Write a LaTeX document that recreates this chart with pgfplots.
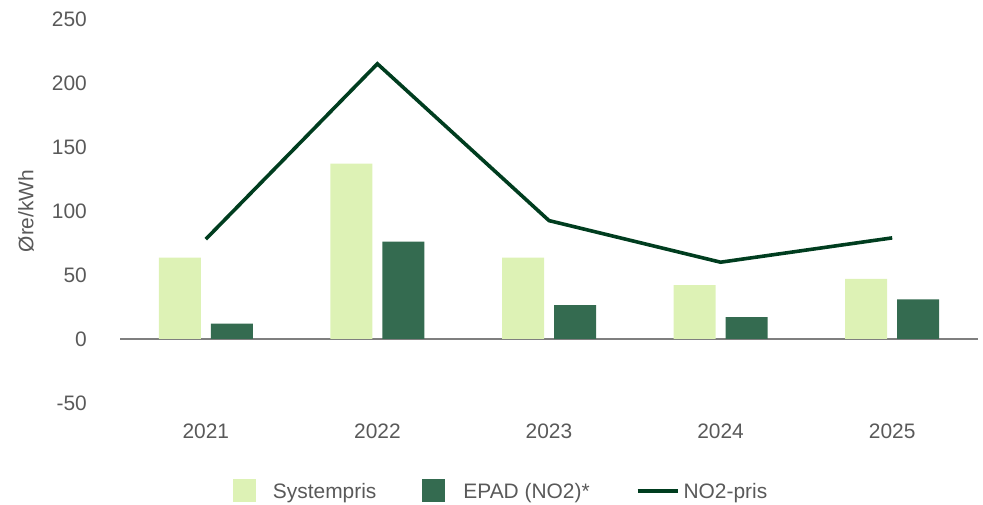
\documentclass[border=0pt]{standalone}
\usepackage{fontspec}
\setmainfont{Liberation Sans}
\usepackage{pgfplots}
\pgfplotsset{compat=1.18}

\definecolor{txtgray}{HTML}{595959}
\definecolor{syslight}{HTML}{DDF2B5}
\definecolor{epadgreen}{HTML}{346B50}
\definecolor{linegreen}{HTML}{003D1F}
\definecolor{zerogray}{HTML}{7F7F7F}

\begin{document}
\begin{tikzpicture}
\useasboundingbox (0,0) rectangle (983bp,505bp);
\begin{axis}[
  at={(120bp,102bp)}, anchor=south west,
  scale only axis,
  width=858bp, height=384bp,
  xmin=-0.5, xmax=4.5,
  ymin=-50, ymax=250,
  ytick={-50,0,50,100,150,200,250},
  xtick={0,1,2,3,4},
  xticklabels={2021,2022,2023,2024,2025},
  axis line style={draw=none},
  major tick length=0pt,
  font=\fontsize{21}{25}\selectfont,
  /pgf/number format/assume math mode=true,
  /pgf/number format/.cd, 1000 sep={}, /pgfplots/.cd,
  yticklabel style={text=txtgray, inner sep=0pt, anchor=east, xshift=-33bp},
  xticklabel style={text=txtgray, inner sep=0pt, anchor=north, yshift=-21bp},
  ylabel={Øre/kWh},
  ylabel style={text=txtgray, at={(axis description cs:0,0.5)}, anchor=center, yshift=94bp},
  legend columns=3,
  legend style={
    at={(axis description cs:0.443,-0.229)}, anchor=center,
    draw=none, fill=none, text=txtgray,
    font=\fontsize{21}{25}\selectfont,
    /tikz/every even column/.append style={column sep=46bp},
    nodes={inner sep=0pt, text depth=0pt},
  },
  legend cell align=left,
  clip=false,
]
% zero reference line
\addplot[zerogray, line width=1.5bp, forget plot] coordinates {(-0.5,0) (4.5,0)};

% system price
\addplot[ybar, bar width=42bp, bar shift=-26bp, fill=syslight, draw=none,
  legend image code/.code={\fill[syslight] (0bp,-11.5bp) rectangle (23bp,11.5bp); \path (40bp,0);}]
  coordinates {(0,63.5) (1,137) (2,63.5) (3,42) (4,47)};
\addlegendentry{Systempris}

% EPAD NO2
\addplot[ybar, bar width=42bp, bar shift=26bp, fill=epadgreen, draw=none,
  legend image code/.code={\fill[epadgreen] (0bp,-11.5bp) rectangle (23bp,11.5bp); \path (41bp,0);}]
  coordinates {(0,12) (1,76) (2,26.5) (3,17) (4,31)};
\addlegendentry{EPAD (NO2)*}

% NO2 area price
\addplot[linegreen, line width=3.6bp, mark=none,
  legend image code/.code={\draw[linegreen, line width=4bp] (0bp,0) -- (40bp,0); \path (44bp,0);}]
  coordinates {(0,78) (1,215) (2,92.5) (3,60) (4,79)};
\addlegendentry{NO2-pris}
\end{axis}
\end{tikzpicture}
\end{document}
